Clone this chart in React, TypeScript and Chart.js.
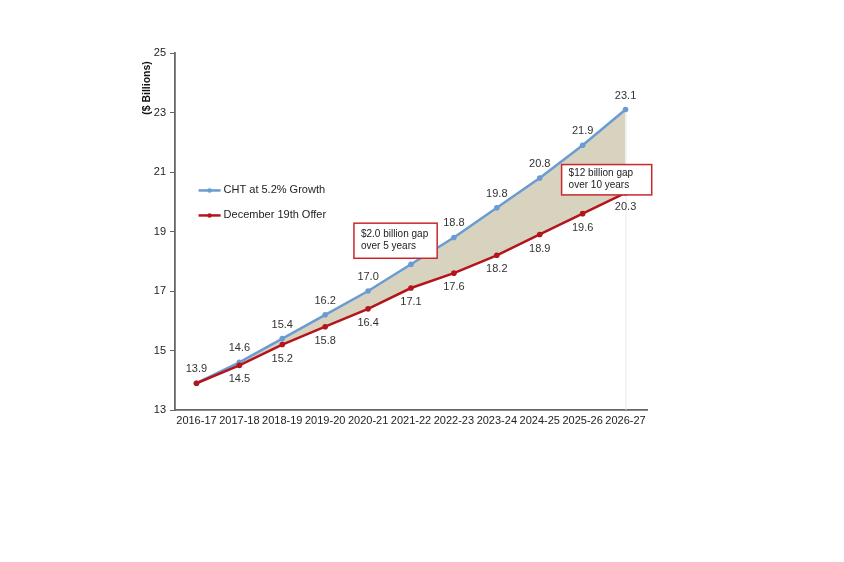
import React, { useEffect, useRef } from "react";
import { Chart, registerables } from "chart.js";

Chart.register(...registerables);

const categories = ["2016-17", "2017-18", "2018-19", "2019-20", "2020-21", "2021-22", "2022-23", "2023-24", "2024-25", "2025-26", "2026-27"];
const chtGrowth = [13.9, 14.6, 15.4, 16.2, 17.0, 17.9, 18.8, 19.8, 20.8, 21.9, 23.1];
const decemberOffer = [13.9, 14.5, 15.2, 15.8, 16.4, 17.1, 17.6, 18.2, 18.9, 19.6, 20.3];
const seriesNames = ["CHT at 5.2% Growth", "December 19th Offer"];
const yTicks = [13, 15, 17, 19, 21, 23, 25];
const yTitle = "($ Billions)";
const noteFiveYears = ["$2.0 billion gap", "over 5 years"];
const noteTenYears = ["$12 billion gap", "over 10 years"];

const BLUE = "#6a9bd3";
const RED = "#b4141c";
const FILL = "#d8d3be";
const FONT = "'Liberation Sans', Arial, sans-serif";

export default function App() {
  const ref = useRef<HTMLCanvasElement | null>(null);

  useEffect(() => {
    if (!ref.current) return;

    const overlay = {
      id: "overlay",
      beforeDatasetsDraw(chart: any) {
        const ctx = chart.ctx;
        const xs = chart.scales.x;
        const ys = chart.scales.y;
        const area = chart.chartArea;
        ctx.save();
        ctx.strokeStyle = "rgba(232,232,232,0.9)";
        ctx.lineWidth = 1;
        const lx = xs.getPixelForValue(categories.length - 1);
        ctx.beginPath();
        ctx.moveTo(lx + 0.5, ys.getPixelForValue(chtGrowth[chtGrowth.length - 1]) + 4);
        ctx.lineTo(lx + 0.5, area.bottom);
        ctx.stroke();
        ctx.restore();
      },
      afterDatasetsDraw(chart: any) {
        const ctx = chart.ctx;
        const xs = chart.scales.x;
        const ys = chart.scales.y;
        const area = chart.chartArea;
        ctx.save();

        // data labels
        ctx.font = `11px ${FONT}`;
        ctx.fillStyle = "#333";
        ctx.textAlign = "center";
        ctx.textBaseline = "middle";
        chtGrowth.forEach((v, i) => {
          const x = xs.getPixelForValue(i);
          const y = ys.getPixelForValue(v);
          ctx.fillText(v.toFixed(1), x, y - 14);
        });
        decemberOffer.forEach((v, i) => {
          if (i === 0) return;
          const x = xs.getPixelForValue(i);
          const y = ys.getPixelForValue(v);
          ctx.fillText(v.toFixed(1), x, y + 14);
        });

        // annotation boxes
        const drawNote = (lines: string[], xi0: number, xi1: number, vTop: number, vBot: number) => {
          const x0 = xs.getPixelForValue(xi0);
          const x1 = xs.getPixelForValue(xi1);
          const y0 = ys.getPixelForValue(vTop);
          const y1 = ys.getPixelForValue(vBot);
          ctx.fillStyle = "#ffffff";
          ctx.fillRect(x0, y0, x1 - x0, y1 - y0);
          ctx.strokeStyle = "#c8282d";
          ctx.lineWidth = 1.5;
          ctx.strokeRect(x0, y0, x1 - x0, y1 - y0);
          ctx.fillStyle = "#222";
          ctx.font = `10px ${FONT}`;
          ctx.textAlign = "left";
          ctx.textBaseline = "middle";
          const mid = (y0 + y1) / 2;
          ctx.fillText(lines[0], x0 + 7, mid - 6);
          ctx.fillText(lines[1], x0 + 7, mid + 6);
        };
        drawNote(noteFiveYears, 3.67, 5.61, 19.28, 18.1);
        drawNote(noteTenYears, 8.51, 10.61, 21.25, 20.23);

        // legend
        const legendItems = [
          { name: seriesNames[0], color: BLUE, v: 20.38 },
          { name: seriesNames[1], color: RED, v: 19.54 },
        ];
        legendItems.forEach((it) => {
          const y = ys.getPixelForValue(it.v);
          const x0 = xs.getPixelForValue(0.05);
          ctx.strokeStyle = it.color;
          ctx.lineWidth = 2.5;
          ctx.beginPath();
          ctx.moveTo(x0, y);
          ctx.lineTo(x0 + 22, y);
          ctx.stroke();
          ctx.fillStyle = it.color;
          ctx.beginPath();
          ctx.arc(x0 + 11, y, 2.2, 0, Math.PI * 2);
          ctx.fill();
          ctx.fillStyle = "#222";
          ctx.font = `11px ${FONT}`;
          ctx.textAlign = "left";
          ctx.textBaseline = "middle";
          ctx.fillText(it.name, x0 + 25, y);
        });

        // y title
        ctx.save();
        ctx.translate(area.left - 28, area.top + 35);
        ctx.rotate(-Math.PI / 2);
        ctx.font = `bold 10.5px ${FONT}`;
        ctx.fillStyle = "#111";
        ctx.textAlign = "center";
        ctx.textBaseline = "middle";
        ctx.fillText(yTitle, 0, 0);
        ctx.restore();

        ctx.restore();
      },
    };

    const chart = new Chart(ref.current, {
      type: "line",
      data: {
        labels: categories,
        datasets: [
          {
            label: seriesNames[0],
            data: chtGrowth,
            borderColor: BLUE,
            backgroundColor: FILL,
            pointBackgroundColor: BLUE,
            pointBorderColor: BLUE,
            pointRadius: 2.8,
            pointBorderWidth: 0,
            borderWidth: 2.5,
            fill: "+1",
            tension: 0,
            order: 1,
          },
          {
            label: seriesNames[1],
            data: decemberOffer,
            borderColor: RED,
            backgroundColor: RED,
            pointBackgroundColor: RED,
            pointBorderColor: RED,
            pointRadius: 2.8,
            pointBorderWidth: 0,
            borderWidth: 2.5,
            fill: false,
            tension: 0,
            order: 0,
          },
        ],
      },
      options: {
        animation: false,
        responsive: false,
        maintainAspectRatio: false,
        layout: { padding: { left: 135, right: 197, top: 53, bottom: 100 } },
        plugins: {
          legend: { display: false },
          tooltip: { enabled: false },
          filler: { drawTime: "beforeDatasetsDraw" },
        } as any,
        scales: {
          x: {
            offset: true,
            grid: { display: false, drawTicks: false },
            border: { color: "#666", width: 1.8 },
            ticks: { color: "#222", font: { family: FONT, size: 11 }, padding: 4, maxRotation: 0, autoSkip: false },
            afterFit: (s: any) => { s.height = 52; },
          },
          y: {
            min: 13,
            max: 25,
            afterBuildTicks: (s: any) => { s.ticks = yTicks.map((v) => ({ value: v })); },
            grid: { display: true, drawOnChartArea: false, drawTicks: true, tickLength: 5, color: "#666" },
            border: { color: "#666", width: 1.8 },
            ticks: { color: "#222", font: { family: FONT, size: 11 }, padding: 4 },
            afterFit: (s: any) => { s.width = 40; },
          },
        },
      },
      plugins: [overlay],
    });
    return () => chart.destroy();
  }, []);

  return (
    <div style={{ position: "fixed", left: 0, top: 0, width: 844, height: 562, background: "#fff" }}>
      <canvas ref={ref} width={844} height={562} style={{ width: 844, height: 562 }} />
    </div>
  );
}
